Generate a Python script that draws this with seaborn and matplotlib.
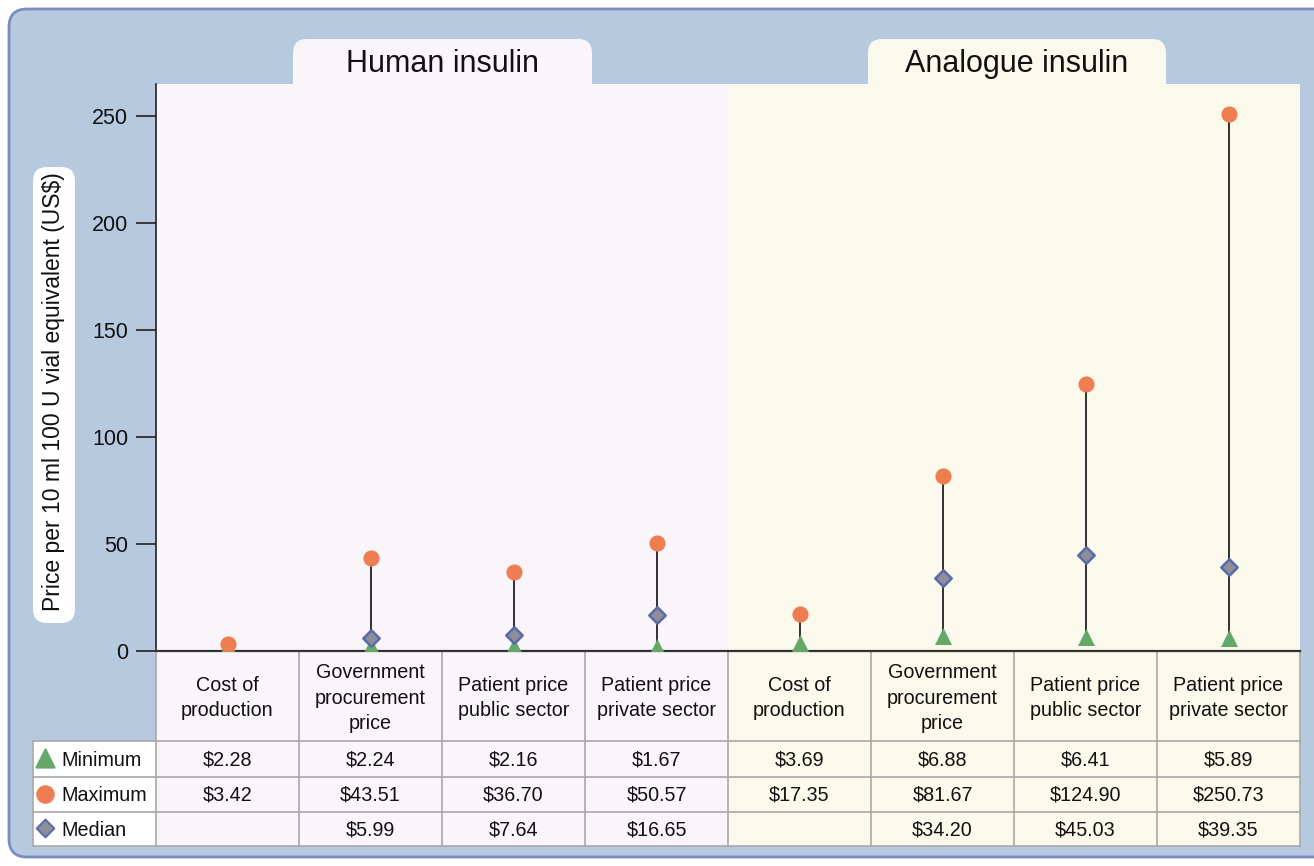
import matplotlib
matplotlib.use("Agg")
import matplotlib.pyplot as plt
from matplotlib.patches import FancyBboxPatch, Rectangle
import seaborn as sns
import pandas as pd
import numpy as np

# ---------------- data ----------------
groups = ["Human insulin", "Analogue insulin"]
categories = ["Cost of\nproduction", "Government\nprocurement\nprice",
              "Patient price\npublic sector", "Patient price\nprivate sector"]
minimum = [2.28, 2.24, 2.16, 1.67, 3.69, 6.88, 6.41, 5.89]
maximum = [3.42, 43.51, 36.70, 50.57, 17.35, 81.67, 124.90, 250.73]
median = [np.nan, 5.99, 7.64, 16.65, np.nan, 34.20, 45.03, 39.35]
min_labels = ["$2.28", "$2.24", "$2.16", "$1.67", "$3.69", "$6.88", "$6.41", "$5.89"]
max_labels = ["$3.42", "$43.51", "$36.70", "$50.57", "$17.35", "$81.67", "$124.90", "$250.73"]
med_labels = ["", "$5.99", "$7.64", "$16.65", "", "$34.20", "$45.03", "$39.35"]
yticks = [0, 50, 100, 150, 200, 250]

# ---------------- style ----------------
sns.set_theme(style="white")
plt.rcParams["font.family"] = ["Liberation Sans", "DejaVu Sans"]

W, H = 1314, 866
fig = plt.figure(figsize=(W / 100, H / 100), dpi=100)
fig.patch.set_facecolor("white")

BG_BLUE = "#B7C9DF"
BORDER = "#7B8BC5"
PINK = "#FAF5FA"
YELLOW = "#FBF9EB"
ORANGE = "#EE7D52"
GREEN = "#64A86A"
DIAM_FACE = "#8E8E98"
DIAM_EDGE = "#5A6AAA"
GRID = "#A8A8A8"
TXT = "#111111"
FS = 14.2

# background axes in pixel coordinates
bg = fig.add_axes([0, 0, 1, 1])
bg.set_xlim(0, W)
bg.set_ylim(H, 0)
bg.axis("off")
bg.set_zorder(0)

bg.add_patch(FancyBboxPatch((9, 9), 1330, 848, boxstyle="round,pad=0,rounding_size=18",
                            facecolor=BG_BLUE, edgecolor=BORDER, lw=2))

# tabs
for (x0, x1), col, name in zip([(293, 592), (868, 1166)], [PINK, YELLOW], groups):
    bg.add_patch(FancyBboxPatch((x0, 39), x1 - x0, 60, boxstyle="round,pad=0,rounding_size=14",
                                facecolor=col, edgecolor="none"))
    bg.text((x0 + x1) / 2, 64, name, ha="center", va="center", fontsize=22, color=TXT)

# y label box
bg.add_patch(FancyBboxPatch((33, 167), 42, 456, boxstyle="round,pad=0,rounding_size=14",
                            facecolor="white", edgecolor="none"))
bg.text(54, 392, "Price per 10 ml 100 U vial equivalent (US$)", rotation=90,
        ha="center", va="center", fontsize=16.5, color=TXT)

# ---------------- table ----------------
x_left, x_right = 156, 1300
colw = (x_right - x_left) / 8
centers = [x_left + colw * (i + 0.5) for i in range(8)]
header_top, header_bot = 651, 741
row_edges = [741, 777, 812, 846]
label_x0 = 33

for i in range(8):
    col = PINK if i < 4 else YELLOW
    bg.add_patch(Rectangle((x_left + colw * i, header_top), colw, row_edges[-1] - header_top,
                           facecolor=col, edgecolor="none"))
bg.add_patch(Rectangle((label_x0, row_edges[0]), x_left - label_x0, row_edges[-1] - row_edges[0],
                       facecolor="white", edgecolor="none"))
for i in range(9):
    x = x_left + colw * i
    bg.plot([x, x], [header_top, row_edges[-1]], color=GRID, lw=1.2)
bg.plot([label_x0, label_x0], [row_edges[0], row_edges[-1]], color=GRID, lw=1.2)
for y in row_edges:
    bg.plot([label_x0, x_right], [y, y], color=GRID, lw=1.2)

for c, lab in zip(centers, categories * 2):
    bg.text(c, (header_top + header_bot) / 2 + 2, lab, ha="center", va="center",
            fontsize=FS, linespacing=1.42, color=TXT)

row_names = ["Minimum", "Maximum", "Median"]
row_markers = [("^", GREEN, GREEN, 170), ("o", ORANGE, ORANGE, 140), ("D", DIAM_FACE, DIAM_EDGE, 80)]
row_values = [min_labels, max_labels, med_labels]
for r in range(3):
    yc = (row_edges[r] + row_edges[r + 1]) / 2
    m, fc, ec, sz = row_markers[r]
    bg.scatter([45], [yc - 1], marker=m, s=sz, facecolor=fc,
               edgecolor=ec, linewidth=1.5, zorder=5)
    bg.text(61, yc + 1, row_names[r], ha="left", va="center", fontsize=FS, color=TXT)
    for c, v in zip(centers, row_values[r]):
        bg.text(c, yc + 1, v, ha="center", va="center", fontsize=FS, color=TXT)

# ---------------- main plot ----------------
ax = fig.add_axes([x_left / W, 1 - 651 / H, (x_right - x_left) / W, (651 - 84) / H])
ax.set_zorder(1)
ax.patch.set_alpha(0)
ax.set_xlim(-0.5, 7.5)
ax.set_ylim(0, 567 / (535 / 250))
ax.axvspan(-0.5, 3.5, color=PINK, zorder=0, lw=0)
ax.axvspan(3.5, 7.5, color=YELLOW, zorder=0, lw=0)

df = pd.DataFrame({"x": np.arange(8), "min": minimum, "max": maximum, "median": median})
ax.vlines(df["x"], df["min"], df["max"], color="#222222", lw=1.3, zorder=2)
sns.scatterplot(data=df, x="x", y="min", marker="^", s=150, color=GREEN, edgecolor=GREEN,
                linewidth=0, ax=ax, zorder=3)
sns.scatterplot(data=df, x="x", y="max", marker="o", s=135, color=ORANGE, edgecolor=ORANGE,
                linewidth=0, ax=ax, zorder=3)
sns.scatterplot(data=df.dropna(), x="x", y="median", marker="D", s=70, color=DIAM_FACE,
                edgecolor=DIAM_EDGE, linewidth=1.8, ax=ax, zorder=4)

ax.set_xlabel("")
ax.set_ylabel("")
ax.set_xticks([])
ax.set_yticks(yticks)
ax.set_yticklabels([str(t) for t in yticks], fontsize=15.5, color=TXT)
ax.tick_params(axis="y", length=14.4, width=1.2, color="#222222", pad=5.5, left=True)
for s in ["top", "right"]:
    ax.spines[s].set_visible(False)
ax.spines["left"].set_color("#222222")
ax.spines["left"].set_linewidth(1.2)
ax.spines["bottom"].set_color("#333333")
ax.spines["bottom"].set_linewidth(1.6)
ax.grid(False)

fig.savefig("out.png", dpi=100)
